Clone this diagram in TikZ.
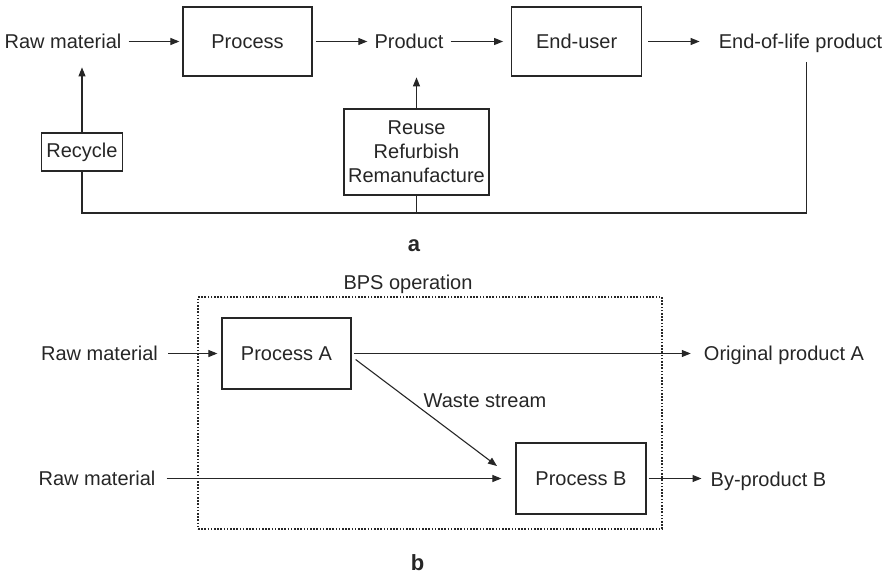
\documentclass[tikz,border=0pt]{standalone}
\usepackage{fontspec}
\setmainfont{Liberation Sans}
\usetikzlibrary{arrows.meta}
\begin{document}
\begin{tikzpicture}[x=1pt,y=-1pt,
  every node/.style={font=\fontsize{20}{24}\selectfont, text=black!85},
  txt/.style={inner sep=0pt, anchor=base},
  box/.style={draw=black!85, line width=1.2pt, inner sep=0pt, align=center},
  lbl/.style={inner sep=0pt, anchor=base, font=\fontsize{22}{26}\selectfont\bfseries},
  ln/.style={draw=black!85, line width=1.1pt},
  arr/.style={ln, -{Triangle[length=9pt,width=7pt]}}]
\useasboundingbox (0,0) rectangle (891,575);

% ---------- part a ----------
\node[txt] (raw) at (63,48.5) {Raw material};
\node[box, minimum width=129, minimum height=69] (proc) at (247.5,41.5) {Process};
\node[txt] (prod) at (409,48.5) {Product};
\node[box, minimum width=130, minimum height=69] (user) at (576.7,41.5) {End-user};
\node[txt] (eol) at (800.5,48.5) {End-of-life product};
\node[box, minimum width=81, minimum height=38] (rec) at (82,152) {Recycle};
\node[box, minimum width=145, minimum height=86] (reuse) at (416.5,152) {Reuse\\Refurbish\\Remanufacture};
\coordinate (eolb) at (806.7,62);
\coordinate (br) at (806.7,213);
\coordinate (bl) at (82,213);

\draw[arr, shorten <=7pt, shorten >=3pt] (raw.east |- proc.west) -- (proc.west);
\draw[arr, shorten <=3pt, shorten >=7pt] (proc.east) -- (proc.east -| prod.west);
\draw[arr, shorten <=7pt, shorten >=8pt] (proc.east -| prod.east) -- (user.west);
\draw[arr, shorten <=6pt, shorten >=19pt] (user.east) -- (user.east -| eol.west);
\draw[ln] (eolb) -- (br) -- (bl) -- (rec.south);
\draw[ln] (reuse.south) -- (reuse.south |- br);
\draw[arr] (rec.north) -- ([yshift=65pt]rec.north);
\draw[arr] (reuse.north) -- ([yshift=31pt]reuse.north);
\node[lbl] (la) at (414,251) {a};

% ---------- part b ----------
\node[txt] (bps) at (408,289) {BPS operation};
\node[draw=black!85, dash pattern=on 1.6pt off 1.6pt, line width=1.1pt, minimum width=464, minimum height=232, inner sep=0pt] (frame) at (430,413) {};
\node[txt] (rawA) at (99.5,360) {Raw material};
\node[box, minimum width=129, minimum height=71] (pa) at (286.5,353.5) {Process A};
\node[txt] (orig) at (784,360.5) {Original product A};
\node[txt] (waste) at (485,407) {Waste stream};
\node[txt] (rawB) at (97,485) {Raw material};
\node[box, minimum width=130, minimum height=71] (pb) at (581,478.5) {Process B};
\node[txt] (byp) at (768.5,486) {By-product B};

\draw[arr, shorten <=10pt, shorten >=4pt] (rawA.east |- pa.west) -- (pa.west);
\draw[arr, shorten <=2pt, shorten >=13pt] (pa.east) -- (pa.east -| orig.west);
\draw[arr] ([xshift=4pt,yshift=-6pt]pa.east) -- (497,466);
\draw[arr, shorten <=11pt, shorten >=14pt] (rawB.east |- pb.west) -- (pb.west);
\draw[arr, shorten <=2pt, shorten >=9pt] (pb.east) -- (pb.east -| byp.west);
\node[lbl] (lb) at (417.5,570) {b};
\end{tikzpicture}
\end{document}
